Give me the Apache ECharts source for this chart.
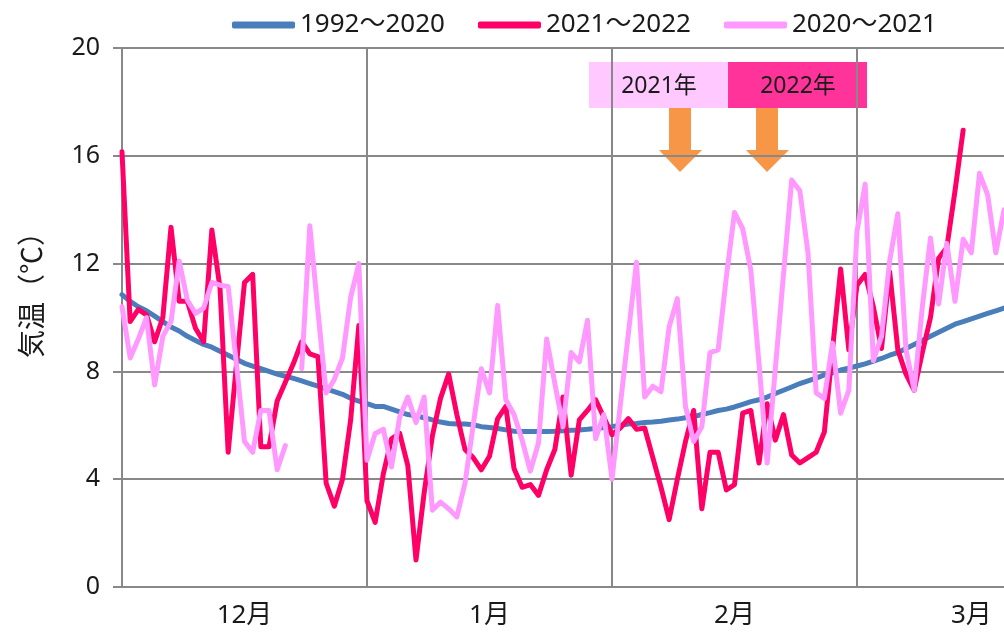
<!DOCTYPE html>
<html>
<head>
<meta charset="utf-8">
<script src="https://cdn.jsdelivr.net/npm/echarts@6/dist/echarts.min.js"></script>
<style>
  html, body { margin: 0; padding: 0; background: #fff; }
  #chart { width: 1004px; height: 634px; }
</style>
</head>
<body>
<div id="chart"></div>
<script>
// 日ごとのカテゴリ（0〜108）
const days = Array.from({ length: 109 }, (_, i) => String(i))
// 月ラベルと位置
const months = ["12月", "1月", "2月", "3月"]
const monthLabelDay = [15, 45, 75, 104]
const monthLineDay = [30, 60, 90]

// 平年値 1992～2020
const normal = [
  10.85, 10.6, 10.4, 10.25, 10.05, 9.85, 9.65, 9.5, 9.3, 9.15,
  9.0, 8.9, 8.75, 8.6, 8.45, 8.3, 8.2, 8.1, 8.0, 7.9,
  7.82, 7.74, 7.65, 7.55, 7.45, 7.35, 7.25, 7.15, 7.0, 6.9,
  6.8, 6.7, 6.7, 6.6, 6.5, 6.4, 6.35, 6.28, 6.2, 6.12,
  6.07, 6.05, 6.05, 6.02, 5.95, 5.92, 5.88, 5.83, 5.78, 5.77,
  5.77, 5.77, 5.77, 5.78, 5.8, 5.82, 5.83, 5.85, 5.88, 5.92,
  5.95, 6.0, 6.05, 6.07, 6.1, 6.12, 6.15, 6.2, 6.23, 6.28,
  6.32, 6.4, 6.47, 6.55, 6.6, 6.68, 6.78, 6.88, 6.95, 7.05,
  7.18, 7.3, 7.42, 7.55, 7.65, 7.75, 7.87, 7.95, 8.05, 8.12,
  8.2, 8.28, 8.38, 8.48, 8.6, 8.7, 8.85, 9.0, 9.15, 9.3,
  9.45, 9.6, 9.75, 9.85, 9.95, 10.05, 10.15, 10.25, 10.35,
]

// 2021～2022
const season2122 = [
  16.15, 9.85, 10.3, 10.1, 9.1, 10.0, 13.35, 10.6, 10.6, 9.6,
  9.1, 13.25, 11.1, 5.0, 8.2, 11.3, 11.6, 5.2, 5.2, 6.9,
  7.6, 8.3, 9.1, 8.65, 8.55, 3.85, 3.0, 4.0, 6.2, 9.7,
  3.2, 2.4, 4.2, 5.5, 5.7, 4.5, 1.0, 3.5, 5.6, 7.0,
  7.9, 6.4, 5.1, 4.8, 4.35, 4.85, 6.25, 6.7, 4.4, 3.7,
  3.8, 3.4, 4.35, 5.1, 7.05, 4.15, 6.2, 6.55, 6.95, 6.3,
  5.65, 5.9, 6.25, 5.85, 5.9, 4.8, 3.7, 2.5, 4.0, 5.4,
  6.55, 2.9, 5.0, 5.0, 3.6, 3.8, 6.45, 6.55, 4.6, 6.8,
  5.45, 6.4, 4.9, 4.6, 4.8, 5.0, 5.75, 8.8, 11.8, 8.8,
  11.2, 11.6, 10.4, 8.85, 11.7, 8.8, 7.9, 7.3, 8.7, 10.0,
  12.2, 12.6, 14.7, 16.95, null, null, null, null, null,
]

// 2020～2021
const season2021 = [
  10.4, 8.5, 9.2, 10.0, 7.5, 9.3, 9.85, 12.1, 10.65, 10.15,
  10.35, 11.3, 11.2, 11.15, 8.3, 5.4, 5.0, 6.55, 6.55, 4.35,
  5.25, null, 8.1, 13.4, 10.2, 7.2, 7.7, 8.5, 10.75, 12.0,
  4.7, 5.7, 5.85, 4.45, 6.3, 7.05, 6.1, 7.05, 2.85, 3.15,
  2.9, 2.6, 3.85, 6.0, 8.1, 7.2, 10.45, 6.95, 6.4, 5.45,
  4.3, 5.35, 9.2, 7.55, 5.95, 8.7, 8.35, 9.9, 5.5, 6.4,
  4.0, 6.7, 9.4, 12.05, 7.05, 7.45, 7.25, 9.65, 10.7, 6.7,
  5.4, 5.95, 8.7, 8.8, 11.5, 13.9, 13.3, 11.75, 8.3, 4.6,
  8.1, 11.6, 15.1, 14.7, 12.4, 7.2, 7.0, 9.05, 6.45, 7.3,
  13.2, 14.95, 8.4, 9.3, 12.1, 13.85, 8.8, 7.3, 10.4, 12.95,
  10.5, 12.75, 10.6, 12.9, 12.4, 15.35, 14.55, 12.4, 14.0,
]

const numFont = "'Noto Sans', 'Noto Sans CJK JP', sans-serif"
const gridColor = "#888888"

let myChart = echarts.init(document.getElementById("chart"))

function lineSeries(name, data, color) {
  return {
    name: name,
    type: "line",
    data: data,
    showSymbol: false,
    symbol: "none",
    connectNulls: false,
    lineStyle: { color: color, width: 5, join: "round", cap: "round" },
    itemStyle: { color: color },
  }
}

myChart.setOption({
  animation: false,
  backgroundColor: "#fff",
  legend: {
    left: 232,
    top: 12,
    padding: 0,
    icon: "roundRect",
    itemWidth: 63,
    itemHeight: 7,
    itemGap: 33,
    textStyle: { fontFamily: numFont, fontSize: 26, color: "#1a1a1a" },
    data: ["1992～2020", "2021～2022", "2020～2021"],
  },
  grid: {
    left: 122,
    right: 0,
    top: 48,
    bottom: 47,
  },
  xAxis: {
    type: "category",
    boundaryGap: false,
    data: days,
    axisLine: { lineStyle: { color: gridColor, width: 2 } },
    axisTick: { show: false },
    splitLine: {
      show: true,
      interval: (index) => monthLineDay.includes(index),
      lineStyle: { color: gridColor, width: 2 },
    },
    axisLabel: {
      interval: (index) => monthLabelDay.includes(index),
      formatter: (value, index) => months[monthLabelDay.indexOf(index)] || "",
      fontFamily: numFont,
      fontSize: 26,
      color: "#1a1a1a",
      margin: 16,
    },
  },
  yAxis: {
    type: "value",
    min: 0,
    max: 20,
    interval: 4,
    axisLine: { show: true, lineStyle: { color: gridColor, width: 2 } },
    axisTick: { show: true, length: 9, lineStyle: { color: gridColor, width: 2 } },
    splitLine: { lineStyle: { color: gridColor, width: 2 } },
    axisLabel: {
      fontFamily: numFont,
      fontSize: 25,
      color: "#1a1a1a",
      margin: 22,
    },
  },
  series: [
    lineSeries("1992～2020", normal, "#4a7ebb"),
    lineSeries("2021～2022", season2122, "#ff0066"),
    lineSeries("2020～2021", season2021, "#ff99ff"),
  ],
  graphic: [
    {
      type: "text",
      x: 31,
      y: 288,
      rotation: Math.PI / 2,
      style: {
        text: "気温（℃）",
        align: "center",
        verticalAlign: "middle",
        textAlign: "center",
        textVerticalAlign: "middle",
        font: "28px 'Noto Sans CJK JP'",
        fill: "#1a1a1a",
      },
    },
    // 年の境目の注記
    { type: "rect", shape: { x: 589, y: 62, width: 139, height: 46 }, style: { fill: "#ffc8ff" } },
    { type: "rect", shape: { x: 728, y: 62, width: 139, height: 46 }, style: { fill: "#ff3399" } },
    {
      type: "text",
      x: 659,
      y: 86,
      style: {
        text: "2021年",
        align: "center",
        verticalAlign: "middle",
        textAlign: "center",
        textVerticalAlign: "middle",
        font: "23px 'Noto Sans', 'Noto Sans CJK JP'",
        fill: "#1a1a1a",
      },
    },
    {
      type: "text",
      x: 798,
      y: 86,
      style: {
        text: "2022年",
        align: "center",
        verticalAlign: "middle",
        textAlign: "center",
        textVerticalAlign: "middle",
        font: "23px 'Noto Sans', 'Noto Sans CJK JP'",
        fill: "#1a1a1a",
      },
    },
    {
      type: "polygon",
      shape: { points: [[669, 108], [691, 108], [691, 150], [702, 150], [680, 172], [659, 150], [669, 150]] },
      style: { fill: "#f79646" },
    },
    {
      type: "polygon",
      shape: { points: [[756, 108], [778, 108], [778, 150], [789, 150], [767, 172], [746, 150], [756, 150]] },
      style: { fill: "#f79646" },
    },
  ],
})
</script>
</body>
</html>
